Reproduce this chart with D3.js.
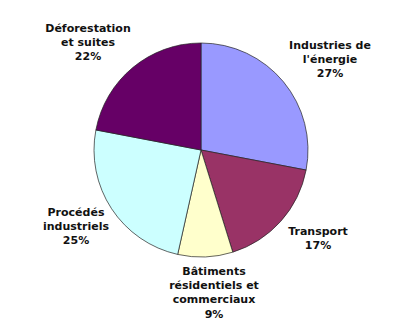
<!DOCTYPE html>
<html>
<head>
<meta charset="utf-8">
<script src="https://cdn.jsdelivr.net/npm/d3@7"></script>
<style>
body { margin: 0; background: #fff; }
svg text { font-family: "DejaVu Sans", Verdana, sans-serif; font-weight: bold; font-size: 11px; fill: #111; }
</style>
</head>
<body>
<svg width="400" height="333"></svg>
<script>
// data, clockwise from 12 o'clock
var categories = ["Industries de l'énergie", "Transport", "Bâtiments résidentiels et commerciaux", "Procédés industriels", "Déforestation et suites"];
var shares = [28, 17.2, 8.3, 24.5, 22];
var pctLabels = ["27%", "17%", "9%", "25%", "22%"];
var labelLines = [["Industries de", "l'énergie"], ["Transport"], ["Bâtiments", "résidentiels et", "commerciaux"], ["Procédés", "industriels"], ["Déforestation", "et suites"]];
var colors = ["#9999ff", "#993366", "#ffffcc", "#ccffff", "#660066"];

function main() {
	var svg = d3.select("svg"),
		cx = 201, cy = 150, r = 107;

	var pie = d3.pie().sort(null).value(function(d){ return d; });
	var arc = d3.arc().innerRadius(0).outerRadius(r);
	var arcs = pie(shares);

	svg.append("g").attr("transform", "translate(" + cx + "," + cy + ")")
		.selectAll("path")
		.data(arcs)
		.enter().append("path")
		.attr("d", arc)
		.attr("fill", function(d, i){ return colors[i]; })
		.attr("stroke", "#222")
		.attr("stroke-width", 0.7);

	// label positions: text centre x, first baseline y
	var labelPos = [[330, 49], [318, 235], [214, 275], [76, 216], [88, 32]];

	var lab = svg.selectAll(".lab")
		.data(arcs)
		.enter().append("text")
		.attr("class", "lab")
		.attr("text-anchor", "middle")
		.attr("transform", function(d, i){ return "translate(" + labelPos[i][0] + "," + labelPos[i][1] + ")"; });

	lab.each(function(d, i){
		var t = d3.select(this);
		var lines = labelLines[i].concat([pctLabels[i]]);
		lines.forEach(function(s, k){
			t.append("tspan").attr("x", 0).attr("y", k * 14.2).text(s);
		});
	});
}
main();
</script>
</body>
</html>
